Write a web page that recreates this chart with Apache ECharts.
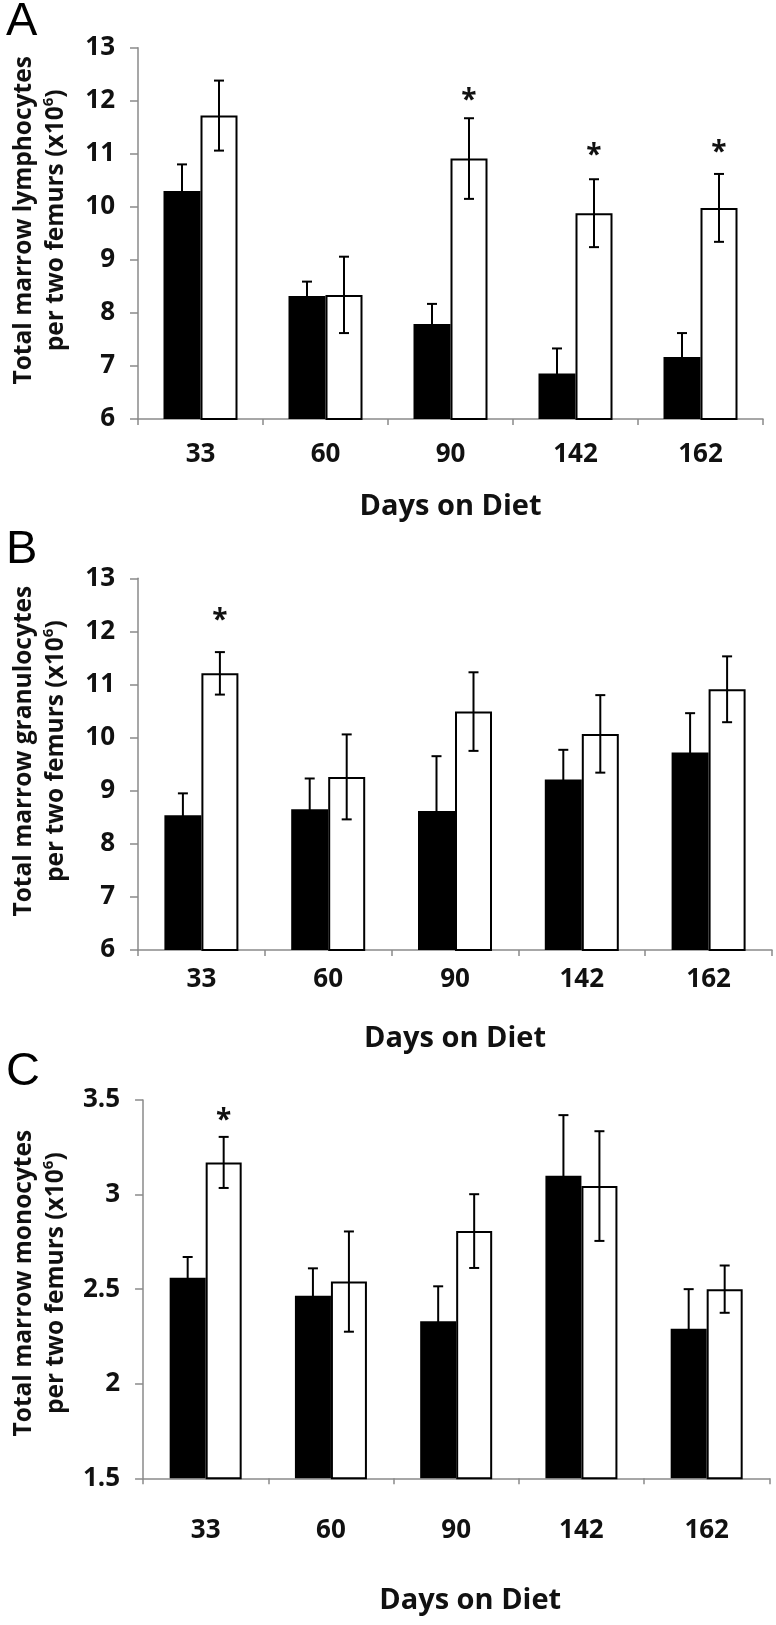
<!DOCTYPE html>
<html><head><meta charset="utf-8">
<script src="https://cdn.jsdelivr.net/npm/echarts@6.0.0/dist/echarts.min.js"></script>
<style>html,body{margin:0;padding:0;background:#fff}#c{width:776px;height:1625px}</style>
</head><body><div id="c"></div>
<script>
// ---- data ----
const days = ['33', '60', '90', '142', '162'];
const xTitle = 'Days on Diet';

// Panel A: lymphocytes
const lymphBlack    = [10.30, 8.32, 7.79, 6.86, 7.17];
const lymphBlackErr = [0.50, 0.27, 0.38, 0.47, 0.45];
const lymphWhite    = [11.72, 8.34, 10.91, 9.88, 9.98];
const lymphWhiteErr = [0.66, 0.72, 0.76, 0.64, 0.64];
const lymphStar     = [null, null, 12.11, 11.07, 11.13];

// Panel B: granulocytes
const granBlack    = [8.54, 8.65, 8.62, 9.21, 9.72];
const granBlackErr = [0.41, 0.58, 1.03, 0.56, 0.74];
const granWhite    = [11.21, 9.26, 10.49, 10.07, 10.91];
const granWhiteErr = [0.40, 0.80, 0.74, 0.73, 0.62];
const granStar     = [12.31, null, null, null, null];

// Panel C: monocytes
const monoBlack    = [2.56, 2.465, 2.33, 3.10, 2.29];
const monoBlackErr = [0.11, 0.145, 0.185, 0.32, 0.21];
const monoWhite    = [3.17, 2.54, 2.807, 3.045, 2.50];
const monoWhiteErr = [0.135, 0.265, 0.195, 0.29, 0.125];
const monoStar     = [3.42, null, null, null, null];

const yTitles = ['Total marrow lymphocytes', 'Total marrow granulocytes', 'Total marrow monocytes'];
const yTitle2 = 'per two femurs (x10{sup|6})';
const panelLetters = ['A', 'B', 'C'];
const yMins = [6, 6, 1.5];
const yMaxs = [13, 13, 3.5];
const yIntervals = [1, 1, 0.5];

// ---- layout / style ----
const grids = [
  {left: 137, top: 47.7, width: 626, height: 371.3},
  {left: 137, top: 578.3, width: 635, height: 371.7},
  {left: 140, top: 1100, width: 629.3, height: 378.3}
];
const letterPos = [[6, 24], [6, 552], [6, 1074]];
const yNameGap = [66, 66, 69];
const yNameShift = [26, 26, 12];
const xNameGap = [73, 74, 107];
const xNameShift = [0, 0, 28];
const xLabelMargin = [23, 17, 39];
const barW = [37, 37, 36];
const axisGray = '#8a8a8a';
const FONT = 'Open Sans';

const panels = [
  {black: lymphBlack, blackErr: lymphBlackErr, white: lymphWhite, whiteErr: lymphWhiteErr, star: lymphStar},
  {black: granBlack, blackErr: granBlackErr, white: granWhite, whiteErr: granWhiteErr, star: granStar},
  {black: monoBlack, blackErr: monoBlackErr, white: monoWhite, whiteErr: monoWhiteErr, star: monoStar}
];

const xAxes = [], yAxes = [], series = [], graphics = [];

function errSeries(p, vals, errs, offset) {
  return {
    type: 'custom', xAxisIndex: p, yAxisIndex: p, clip: false, z: 5,
    data: vals.map((v, i) => [i, v, errs[i]]),
    encode: {x: 0, y: 1},
    renderItem: function (params, api) {
      const i = api.value(0), v = api.value(1), e = api.value(2);
      const top = api.coord([i, v + e]);
      const bot = api.coord([i, v - e]);
      const x = top[0] + offset;
      const st = {stroke: '#000', lineWidth: 2};
      return {type: 'group', children: [
        {type: 'line', shape: {x1: x, y1: top[1], x2: x, y2: bot[1]}, style: st},
        {type: 'line', shape: {x1: x - 5, y1: top[1], x2: x + 5, y2: top[1]}, style: st},
        {type: 'line', shape: {x1: x - 5, y1: bot[1], x2: x + 5, y2: bot[1]}, style: st}
      ]};
    }
  };
}

panels.forEach((pd, p) => {
  xAxes.push({
    type: 'category', gridIndex: p, data: days,
    name: xTitle, nameLocation: 'middle', nameGap: xNameGap[p],
    nameTextStyle: {fontFamily: FONT, fontWeight: 'bold', fontSize: 29, color: '#111', lineHeight: 30,
                    padding: [0, 0, 0, xNameShift[p]]},
    axisLine: {lineStyle: {color: axisGray, width: 1.5}},
    axisTick: {show: true, length: 6, lineStyle: {color: axisGray, width: 1.5}},
    axisLabel: {fontFamily: FONT, fontWeight: 'bold', fontSize: 26, lineHeight: 26, color: '#111', margin: xLabelMargin[p]},
    splitLine: {show: false}
  });
  yAxes.push({
    type: 'value', gridIndex: p, min: yMins[p], max: yMaxs[p], interval: yIntervals[p],
    name: yTitles[p] + '\n' + yTitle2, nameLocation: 'middle', nameRotate: 90, nameGap: yNameGap[p],
    nameTextStyle: {fontFamily: FONT, fontWeight: 'bold', fontSize: 24.5, lineHeight: 32, color: '#111',
      padding: [0, 0, 0, yNameShift[p]],
      rich: {sup: {fontFamily: FONT, fontWeight: 'bold', fontSize: 15, color: '#111', padding: [0, 0, 14, 0]}}},
    axisLine: {show: true, lineStyle: {color: axisGray, width: 1.5}},
    axisTick: {show: true, length: 8, lineStyle: {color: axisGray, width: 1.5}},
    axisLabel: {fontFamily: FONT, fontWeight: 'bold', fontSize: 26, color: '#111', margin: 23},
    splitLine: {show: false}
  });
  series.push({
    type: 'bar', xAxisIndex: p, yAxisIndex: p, data: pd.black, barWidth: barW[p], barGap: '0%',
    itemStyle: {color: '#000'}, silent: true
  });
  series.push({
    type: 'bar', xAxisIndex: p, yAxisIndex: p, data: pd.white, barWidth: barW[p], barGap: '0%',
    itemStyle: {color: '#fff', borderColor: '#000', borderWidth: 2}, silent: true
  });
  series.push(errSeries(p, pd.black, pd.blackErr, -barW[p] / 2));
  series.push(errSeries(p, pd.white, pd.whiteErr, barW[p] / 2));
  series.push({
    type: 'custom', xAxisIndex: p, yAxisIndex: p, clip: false, z: 6,
    data: pd.star.map((s, i) => s == null ? null : [i, s]).filter(d => d),
    encode: {x: 0, y: 1},
    renderItem: function (params, api) {
      const c = api.coord([api.value(0), api.value(1)]);
      return {type: 'text', x: c[0] + barW[p] / 2, y: c[1] + 6,
        style: {text: '*', fontFamily: FONT, fontWeight: 'bold', fontSize: 28, fill: '#111',
                align: 'center', verticalAlign: 'middle'}};
    }
  });
  graphics.push({
    type: 'text', left: letterPos[p][0], top: letterPos[p][1] - 25,
    style: {text: panelLetters[p], fontFamily: 'Liberation Sans', fontSize: 47, fill: '#000'}
  });
});

const chart = echarts.init(document.getElementById('c'), null, {renderer: 'canvas'});
chart.setOption({
  animation: false,
  backgroundColor: '#fff',
  grid: grids.map(g => Object.assign({containLabel: false}, g)),
  xAxis: xAxes,
  yAxis: yAxes,
  series: series,
  graphic: graphics
});
</script>
</body></html>
